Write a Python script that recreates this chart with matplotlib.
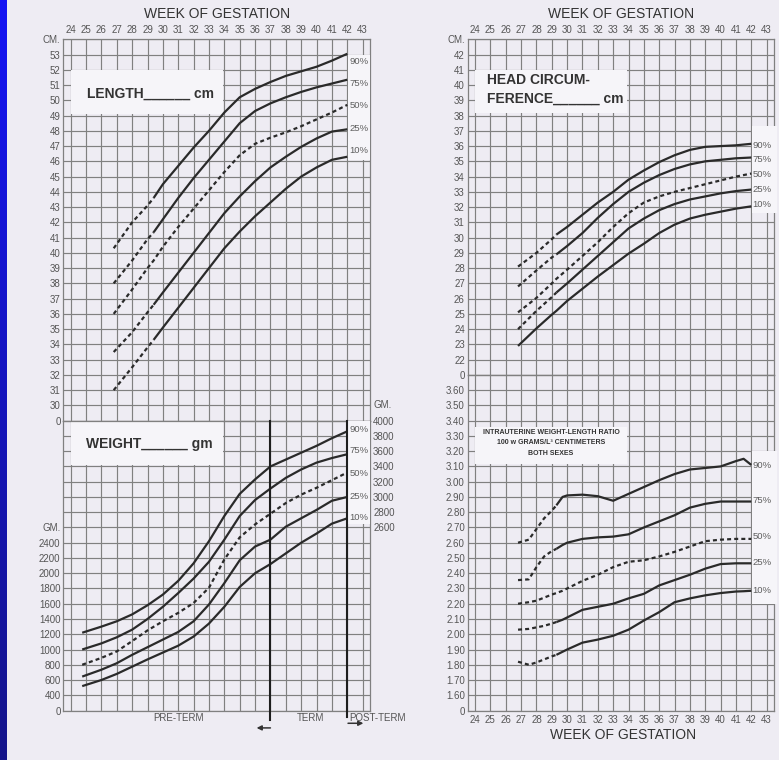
import numpy as np
import matplotlib
matplotlib.use("Agg")
import matplotlib.pyplot as plt
from matplotlib import font_manager
from matplotlib.patches import Rectangle
from matplotlib.colors import LinearSegmentedColormap

# ---------------- fonts ----------------
_names = {f.name for f in font_manager.fontManager.ttflist}
BASE = "Liberation Sans"
NARROW = "Liberation Sans Narrow" if "Liberation Sans Narrow" in _names else BASE
HAS_NARROW = NARROW != BASE
plt.rcParams["font.family"] = [BASE, "DejaVu Sans"]

# ---------------- data ----------------
week_ticks = list(range(24, 44))
percentiles = ["90%", "75%", "50%", "25%", "10%"]

# Length (cm)
len_weeks = [26.8, 28, 29, 29.4, 30, 31, 32, 33, 34, 35, 36, 37, 38, 39, 40, 41, 42]
len_p90 = [40.3, 42.0, 43.1, 43.6, 44.5, 45.7, 46.9, 48.0, 49.2, 50.2, 50.75, 51.2, 51.6, 51.9, 52.2, 52.6, 53.05]
len_p75 = [38.0, 39.5, 40.9, 41.35, 42.2, 43.6, 44.9, 46.1, 47.3, 48.5, 49.3, 49.8, 50.2, 50.55, 50.85, 51.1, 51.35]
len_p50 = [36.0, 37.6, 39.0, 39.5, 40.4, 41.7, 42.9, 44.1, 45.3, 46.4, 47.15, 47.55, 47.9, 48.3, 48.75, 49.2, 49.7]
len_p25 = [33.5, 34.8, 36.1, 36.6, 37.4, 38.7, 40.0, 41.3, 42.6, 43.7, 44.7, 45.6, 46.3, 46.95, 47.5, 47.95, 48.1]
len_p10 = [31.0, 32.5, 33.8, 34.3, 35.1, 36.4, 37.7, 39.0, 40.3, 41.4, 42.4, 43.3, 44.2, 45.0, 45.6, 46.1, 46.3]
# week where each curve turns from dashed to solid (None = solid throughout, 99 = dashed throughout)
len_solid_from = [29.4, 29.4, 99, 29.4, 29.4]

# Weight (gm)
wt_weeks = [24.75, 26, 27, 28, 29, 30, 31, 32, 33, 34, 35, 36, 37, 38, 39, 40, 41, 42]
wt_p90 = [1220, 1300, 1370, 1460, 1580, 1720, 1900, 2130, 2420, 2750, 3040, 3230, 3400, 3490, 3580, 3670, 3770, 3860]
wt_p75 = [1000, 1080, 1160, 1260, 1400, 1560, 1740, 1930, 2150, 2440, 2750, 2960, 3110, 3250, 3360, 3450, 3510, 3560]
wt_p50 = [800, 890, 975, 1110, 1250, 1370, 1480, 1610, 1810, 2180, 2470, 2640, 2780, 2920, 3030, 3120, 3220, 3320]
wt_p25 = [645, 735, 820, 930, 1030, 1130, 1230, 1370, 1590, 1870, 2170, 2350, 2440, 2610, 2720, 2830, 2950, 3000]
wt_p10 = [520, 600, 680, 775, 870, 960, 1050, 1170, 1340, 1560, 1820, 2000, 2120, 2260, 2400, 2520, 2650, 2720]
wt_solid_from = [None, None, 99, None, None]

# Head circumference (cm)
hc_weeks = [26.8, 28, 29, 29.3, 30, 31, 32, 33, 34, 35, 36, 37, 38, 39, 40, 41, 42]
hc_p90 = [28.1, 29.0, 29.9, 30.2, 30.7, 31.5, 32.3, 33.0, 33.8, 34.4, 34.95, 35.4, 35.75, 35.95, 36.0, 36.05, 36.15]
hc_p75 = [26.8, 27.85, 28.7, 28.9, 29.45, 30.3, 31.3, 32.2, 33.0, 33.6, 34.1, 34.5, 34.8, 35.0, 35.1, 35.2, 35.25]
hc_p50 = [25.1, 26.05, 27.0, 27.3, 27.9, 28.8, 29.7, 30.7, 31.6, 32.3, 32.7, 33.0, 33.25, 33.5, 33.75, 34.0, 34.2]
hc_p25 = [24.0, 25.2, 26.1, 26.4, 27.0, 27.9, 28.8, 29.7, 30.6, 31.25, 31.8, 32.2, 32.5, 32.7, 32.9, 33.05, 33.15]
hc_p10 = [22.9, 24.05, 24.95, 25.2, 25.85, 26.65, 27.45, 28.2, 28.95, 29.6, 30.3, 30.85, 31.25, 31.5, 31.7, 31.9, 32.05]
hc_solid_from = [29.3, 29.3, 99, 29.3, None]

# Weight-length ratio
wl_weeks = [26.8, 27.5, 28, 28.5, 29, 29.3, 29.7, 30, 31, 32, 33, 34, 35, 36, 37, 38, 39, 40, 41, 41.5, 42]
wl_p90 = [2.60, 2.62, 2.69, 2.76, 2.81, 2.845, 2.90, 2.91, 2.915, 2.905, 2.875, 2.92, 2.965, 3.01, 3.05, 3.08, 3.09, 3.10, 3.135, 3.15, 3.11]
wl_p75 = [2.355, 2.36, 2.44, 2.51, 2.545, 2.56, 2.585, 2.60, 2.625, 2.635, 2.64, 2.655, 2.70, 2.74, 2.78, 2.83, 2.855, 2.87, 2.87, 2.87, 2.87]
wl_p50 = [2.20, 2.21, 2.22, 2.24, 2.26, 2.27, 2.285, 2.30, 2.35, 2.39, 2.44, 2.475, 2.485, 2.51, 2.54, 2.575, 2.61, 2.62, 2.625, 2.625, 2.625]
wl_p25 = [2.03, 2.035, 2.045, 2.055, 2.07, 2.08, 2.095, 2.11, 2.16, 2.18, 2.20, 2.235, 2.265, 2.32, 2.355, 2.39, 2.43, 2.46, 2.465, 2.465, 2.465]
wl_p10 = [1.82, 1.80, 1.815, 1.835, 1.855, 1.865, 1.885, 1.90, 1.945, 1.965, 1.99, 2.03, 2.09, 2.145, 2.21, 2.235, 2.255, 2.27, 2.28, 2.282, 2.285]
wl_solid_from = [29.3, 29.3, 99, 29.3, 29.3]

# ---------------- style ----------------
W, H = 779, 760
PAPER = "#eeecf3"
BOX = "#f6f5f9"
GRID = "#808080"
CURVE = "#2a2a2a"
TXT = "#555555"
DARK = "#333333"
LW = 1.6
DASH = (0, (1.8, 1.4))

fig = plt.figure(figsize=(W / 100, H / 100), dpi=100)
fig.patch.set_facecolor(PAPER)

# blue strip at the left edge
bax = fig.add_axes([0, 0, 7 / W, 1])
bax.imshow(np.linspace(0, 1, 256).reshape(-1, 1), aspect="auto",
           cmap=LinearSegmentedColormap.from_list("b", ["#1414f4", "#16168a"]),
           extent=[0, 1, 0, 1], origin="upper")
bax.axis("off")


def add_px_axes(l, t, r, b):
    return fig.add_axes([l / W, 1 - b / H, (r - l) / W, (b - t) / H])


TOP, ROW = 39.3, 15.255
LL, LR = 63.3, 370.3
RL, RR = 467.7, 774.3
y_len_b = TOP + 25 * ROW
y_wt_b = y_len_b + 19 * ROW
y_hc_b = TOP + 22 * ROW

ax_len = add_px_axes(LL, TOP, LR, y_len_b)
ax_wt = add_px_axes(LL, y_len_b, LR, y_wt_b)
ax_hc = add_px_axes(RL, TOP, RR, y_hc_b)
ax_wl = add_px_axes(RL, y_hc_b, RR, y_wt_b)

XLIM = (23.52, 43.5)


def setup(ax, yticks, ylabels, xtop=False, xbottom=False):
    ax.set_facecolor(PAPER)
    ax.set_xlim(*XLIM)
    ax.set_ylim(yticks[0], yticks[-1])
    ax.set_xticks(week_ticks)
    ax.set_yticks(yticks)
    ax.set_yticklabels(ylabels)
    ax.set_axisbelow(True)
    ax.grid(True, color=GRID, lw=0.85)
    for s in ax.spines.values():
        s.set_color(GRID)
        s.set_linewidth(0.9)
    ax.tick_params(axis="y", length=0, pad=2, labelsize=7, labelcolor=TXT)
    ax.tick_params(axis="x", length=0, labelsize=7, labelcolor=TXT,
                   labeltop=xtop, labelbottom=xbottom, pad=3.2)


# length axis
len_ticks = list(range(29, 55))
len_labels = ["0"] + [str(v) for v in range(30, 54)] + ["CM."]
setup(ax_len, len_ticks, len_labels, xtop=True)

# weight axis
wt_ticks = list(range(200, 4001, 200))
wt_labels = ["0" if v == 200 else ("GM." if v == 2600 else (str(v) if v <= 2400 else "")) for v in wt_ticks]
setup(ax_wt, wt_ticks, wt_labels)
tw = ax_wt.twinx()
tw.set_ylim(ax_wt.get_ylim())
tw.set_yticks(wt_ticks)
tw.set_yticklabels([str(v) if v >= 2600 else "" for v in wt_ticks])
tw.tick_params(axis="y", length=0, pad=2, labelsize=7, labelcolor=TXT)
for s in tw.spines.values():
    s.set_visible(False)
ax_wt.annotate("GM.", xy=(1, 4200), xycoords=("axes fraction", "data"),
               xytext=(2, 0), textcoords="offset points", ha="left", va="center",
               fontsize=7, color=TXT, annotation_clip=False)

# head axis
hc_ticks = list(range(21, 44))
hc_labels = ["0"] + [str(v) for v in range(22, 43)] + ["CM."]
setup(ax_hc, hc_ticks, hc_labels, xtop=True)

# ratio axis
wl_ticks = [round(1.5 + 0.1 * i, 2) for i in range(23)]
wl_labels = ["0"] + ["%.2f" % v for v in wl_ticks[1:-1]] + [""]
setup(ax_wl, wl_ticks, wl_labels, xbottom=True)


def draw_curves(ax, weeks, series, solid_from, label_y, label_x=42.15,
                label_box=None, box_right=43.45):
    if label_box is not None:
        ax.add_patch(Rectangle((42.05, label_box[0]), box_right - 42.05, label_box[1] - label_box[0],
                               fc=BOX, ec="none", zorder=2.6, clip_on=False))
    wk = np.array(weeks, dtype=float)
    for vals, sf in zip(series, solid_from):
        v = np.array(vals, dtype=float)
        if sf is None:
            ax.plot(wk, v, color=CURVE, lw=LW, zorder=3, solid_capstyle="butt",
                    solid_joinstyle="round")
        elif sf >= 99:
            ax.plot(wk, v, color=CURVE, lw=LW, ls=DASH, zorder=3)
        else:
            d = wk <= sf + 1e-9
            s = wk >= sf - 1e-9
            ax.plot(wk[d], v[d], color=CURVE, lw=LW, ls=DASH, zorder=3)
            ax.plot(wk[s], v[s], color=CURVE, lw=LW, zorder=3, solid_capstyle="butt",
                    solid_joinstyle="round")
    for name, y in zip(percentiles, label_y):
        ax.text(label_x, y, name, fontsize=6.8, color="#5e5e5e", ha="left",
                va="center", zorder=4, clip_on=False)


# boxes with titles
def title_box(ax, y0, y1):
    ax.add_patch(Rectangle((24.0, y0), 9.9, y1 - y0, fc=BOX, ec="none", zorder=1.5))


title_box(ax_len, 49.1, 52.0)
ax_len.text(25.05, 50.45, "LENGTH______ cm", fontsize=10, fontweight="bold", color=DARK,
            ha="left", va="center", zorder=4)
title_box(ax_wt, 3420, 3980)
ax_wt.text(25.0, 3690, "WEIGHT______ gm", fontsize=10, fontweight="bold", color=DARK,
           ha="left", va="center", zorder=4)
title_box(ax_hc, 38.15, 41.0)
ax_hc.text(24.76, 40.33, "HEAD CIRCUM-", fontsize=10, fontweight="bold", color=DARK,
           ha="left", va="center", zorder=4)
ax_hc.text(24.76, 39.09, "FERENCE______ cm", fontsize=10, fontweight="bold", color=DARK,
           ha="left", va="center", zorder=4)
title_box(ax_wl, 3.115, 3.36)
rfs = 6.0 if HAS_NARROW else 5.0
for y, s in [(3.32, "INTRAUTERINE WEIGHT-LENGTH RATIO"),
             (3.256, "100 w GRAMS/L\u00b3 CENTIMETERS"),
             (3.186, "BOTH SEXES")]:
    ax_wl.text(28.95, y, s, fontsize=rfs, fontweight="bold", family=[NARROW, "DejaVu Sans"],
               color=DARK, ha="center", va="center", zorder=4)

# curves
draw_curves(ax_len, len_weeks, [len_p90, len_p75, len_p50, len_p25, len_p10],
            len_solid_from, label_y=[52.54, 51.1, 49.66, 48.15, 46.7], label_box=(46.1, 53.0))
draw_curves(ax_wt, wt_weeks, [wt_p90, wt_p75, wt_p50, wt_p25, wt_p10],
            wt_solid_from, label_y=[3887, 3603, 3301, 3004, 2728], label_box=(2640, 3990))
draw_curves(ax_hc, hc_weeks, [hc_p90, hc_p75, hc_p50, hc_p25, hc_p10],
            hc_solid_from, label_y=[36.05, 35.09, 34.15, 33.17, 32.16],
            label_x=42.07, label_box=(31.6, 37.3), box_right=43.7)
draw_curves(ax_wl, wl_weeks, [wl_p90, wl_p75, wl_p50, wl_p25, wl_p10],
            wl_solid_from, label_y=[3.103, 2.875, 2.639, 2.473, 2.29],
            label_x=42.07, label_box=(2.20, 3.20), box_right=43.7)

# term / post-term markers
ax_wt.axvline(37, ymin=-0.033, ymax=1, color="#1e1e1e", lw=1.5, clip_on=False, zorder=5)
ax_wt.axvline(42, ymin=-0.021, ymax=1, color="#1e1e1e", lw=1.5, clip_on=False, zorder=5)
for x, s, ha in [(31.0, "PRE-TERM", "center"), (39.6, "TERM", "center"), (42.1, "POST-TERM", "left")]:
    ax_wt.annotate(s, xy=(x, 0), xycoords=("data", "axes fraction"), xytext=(0, -5.5),
                   textcoords="offset points", ha=ha, va="center", fontsize=7, color=TXT,
                   annotation_clip=False)
arrow_kw = dict(arrowstyle="-|>", color=DARK, lw=1.1, mutation_scale=7, shrinkA=0, shrinkB=0)
ax_wt.annotate("", xy=(36.1, -0.060), xycoords=("data", "axes fraction"),
               xytext=(37.0, -0.060), textcoords=("data", "axes fraction"),
               arrowprops=arrow_kw, annotation_clip=False)
ax_wt.annotate("", xy=(43.05, -0.044), xycoords=("data", "axes fraction"),
               xytext=(42.05, -0.044), textcoords=("data", "axes fraction"),
               arrowprops=arrow_kw, annotation_clip=False)

# headings
tfs = 10.8 if HAS_NARROW else 10.0
for x, y in [((LL + LR) / 2, 14), ((RL + RR) / 2, 14), ((RL + RR) / 2 + 2, 735)]:
    fig.text(x / W, 1 - y / H, "WEEK OF GESTATION", ha="center", va="center",
             fontsize=tfs, color=DARK, family=[NARROW, "DejaVu Sans"])

fig.savefig("out.png", dpi=100, facecolor=fig.get_facecolor())
